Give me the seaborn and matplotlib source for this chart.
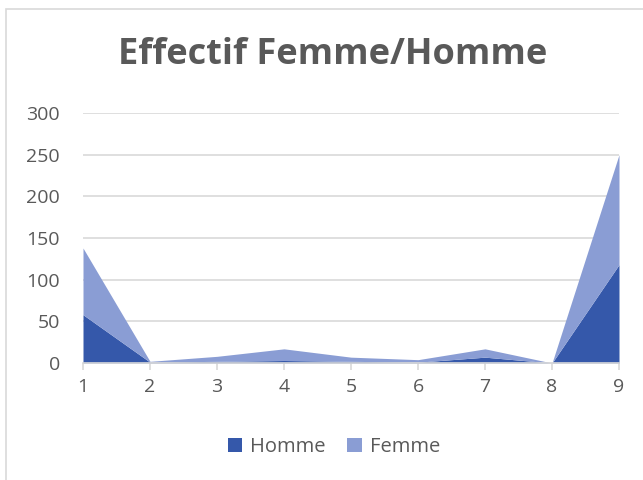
import matplotlib
matplotlib.use("Agg")
import matplotlib.pyplot as plt
import seaborn as sns
import numpy as np
from matplotlib.patches import Patch, Rectangle

categories = [1, 2, 3, 4, 5, 6, 7, 8, 9]
homme = [58, 1, 2, 3, 2, 1, 7, 0, 118]
femme = [80, 1, 6, 14, 5, 3, 10, 0, 132]
yticks = [0, 50, 100, 150, 200, 250, 300]
title = "Effectif Femme/Homme"
series_names = ["Homme", "Femme"]

sns.set_theme(style="white")
plt.rcParams['font.family'] = ['Open Sans', 'DejaVu Sans']

c_homme = "#3558AA"
c_femme = "#8A9DD4"
txt = "#595959"

fig = plt.figure(figsize=(6.43, 4.8), dpi=100)
fig.patches.append(Rectangle((6/643, -0.01), 1.0, 1 - 9/480 + 0.01, transform=fig.transFigure,
                             fill=False, edgecolor="#d9d9d9", linewidth=1.2))
ax = fig.add_axes([83/643, 1 - 363/480, 536/643, 250/480])

ax.stackplot(categories, homme, femme, colors=[c_homme, c_femme], linewidth=0)
ax.set_xlim(1, 9)
ax.set_ylim(0, 300)
ax.set_yticks(yticks)
ax.set_xticks(categories)
ax.grid(axis="y", color="#d9d9d9", linewidth=1.2)
ax.set_axisbelow(True)
for s in ["top", "right", "left"]:
    ax.spines[s].set_visible(False)
ax.spines["bottom"].set_color("#d9d9d9")
ax.spines["bottom"].set_linewidth(1.2)
ax.tick_params(axis="x", which="both", bottom=True, length=5, width=1.2, color="#d9d9d9",
               labelsize=14, labelcolor=txt, pad=6)
ax.tick_params(axis="y", left=False, length=0, labelsize=14, labelcolor=txt, pad=16.5)

fig.text(0.517, 1 - 55/480, title, ha="center", va="center", fontsize=26,
         fontweight="bold", color=txt)

handles = [Patch(facecolor=c_homme, edgecolor="none"), Patch(facecolor=c_femme, edgecolor="none")]
fig.legend(handles, series_names, loc="center", bbox_to_anchor=(0.519, 1 - 447/480), ncol=2,
           frameon=False, fontsize=14.5, labelcolor=txt, handlelength=0.7, handleheight=0.7,
           handletextpad=0.4, columnspacing=1.1)

fig.savefig("out.png", dpi=100)
